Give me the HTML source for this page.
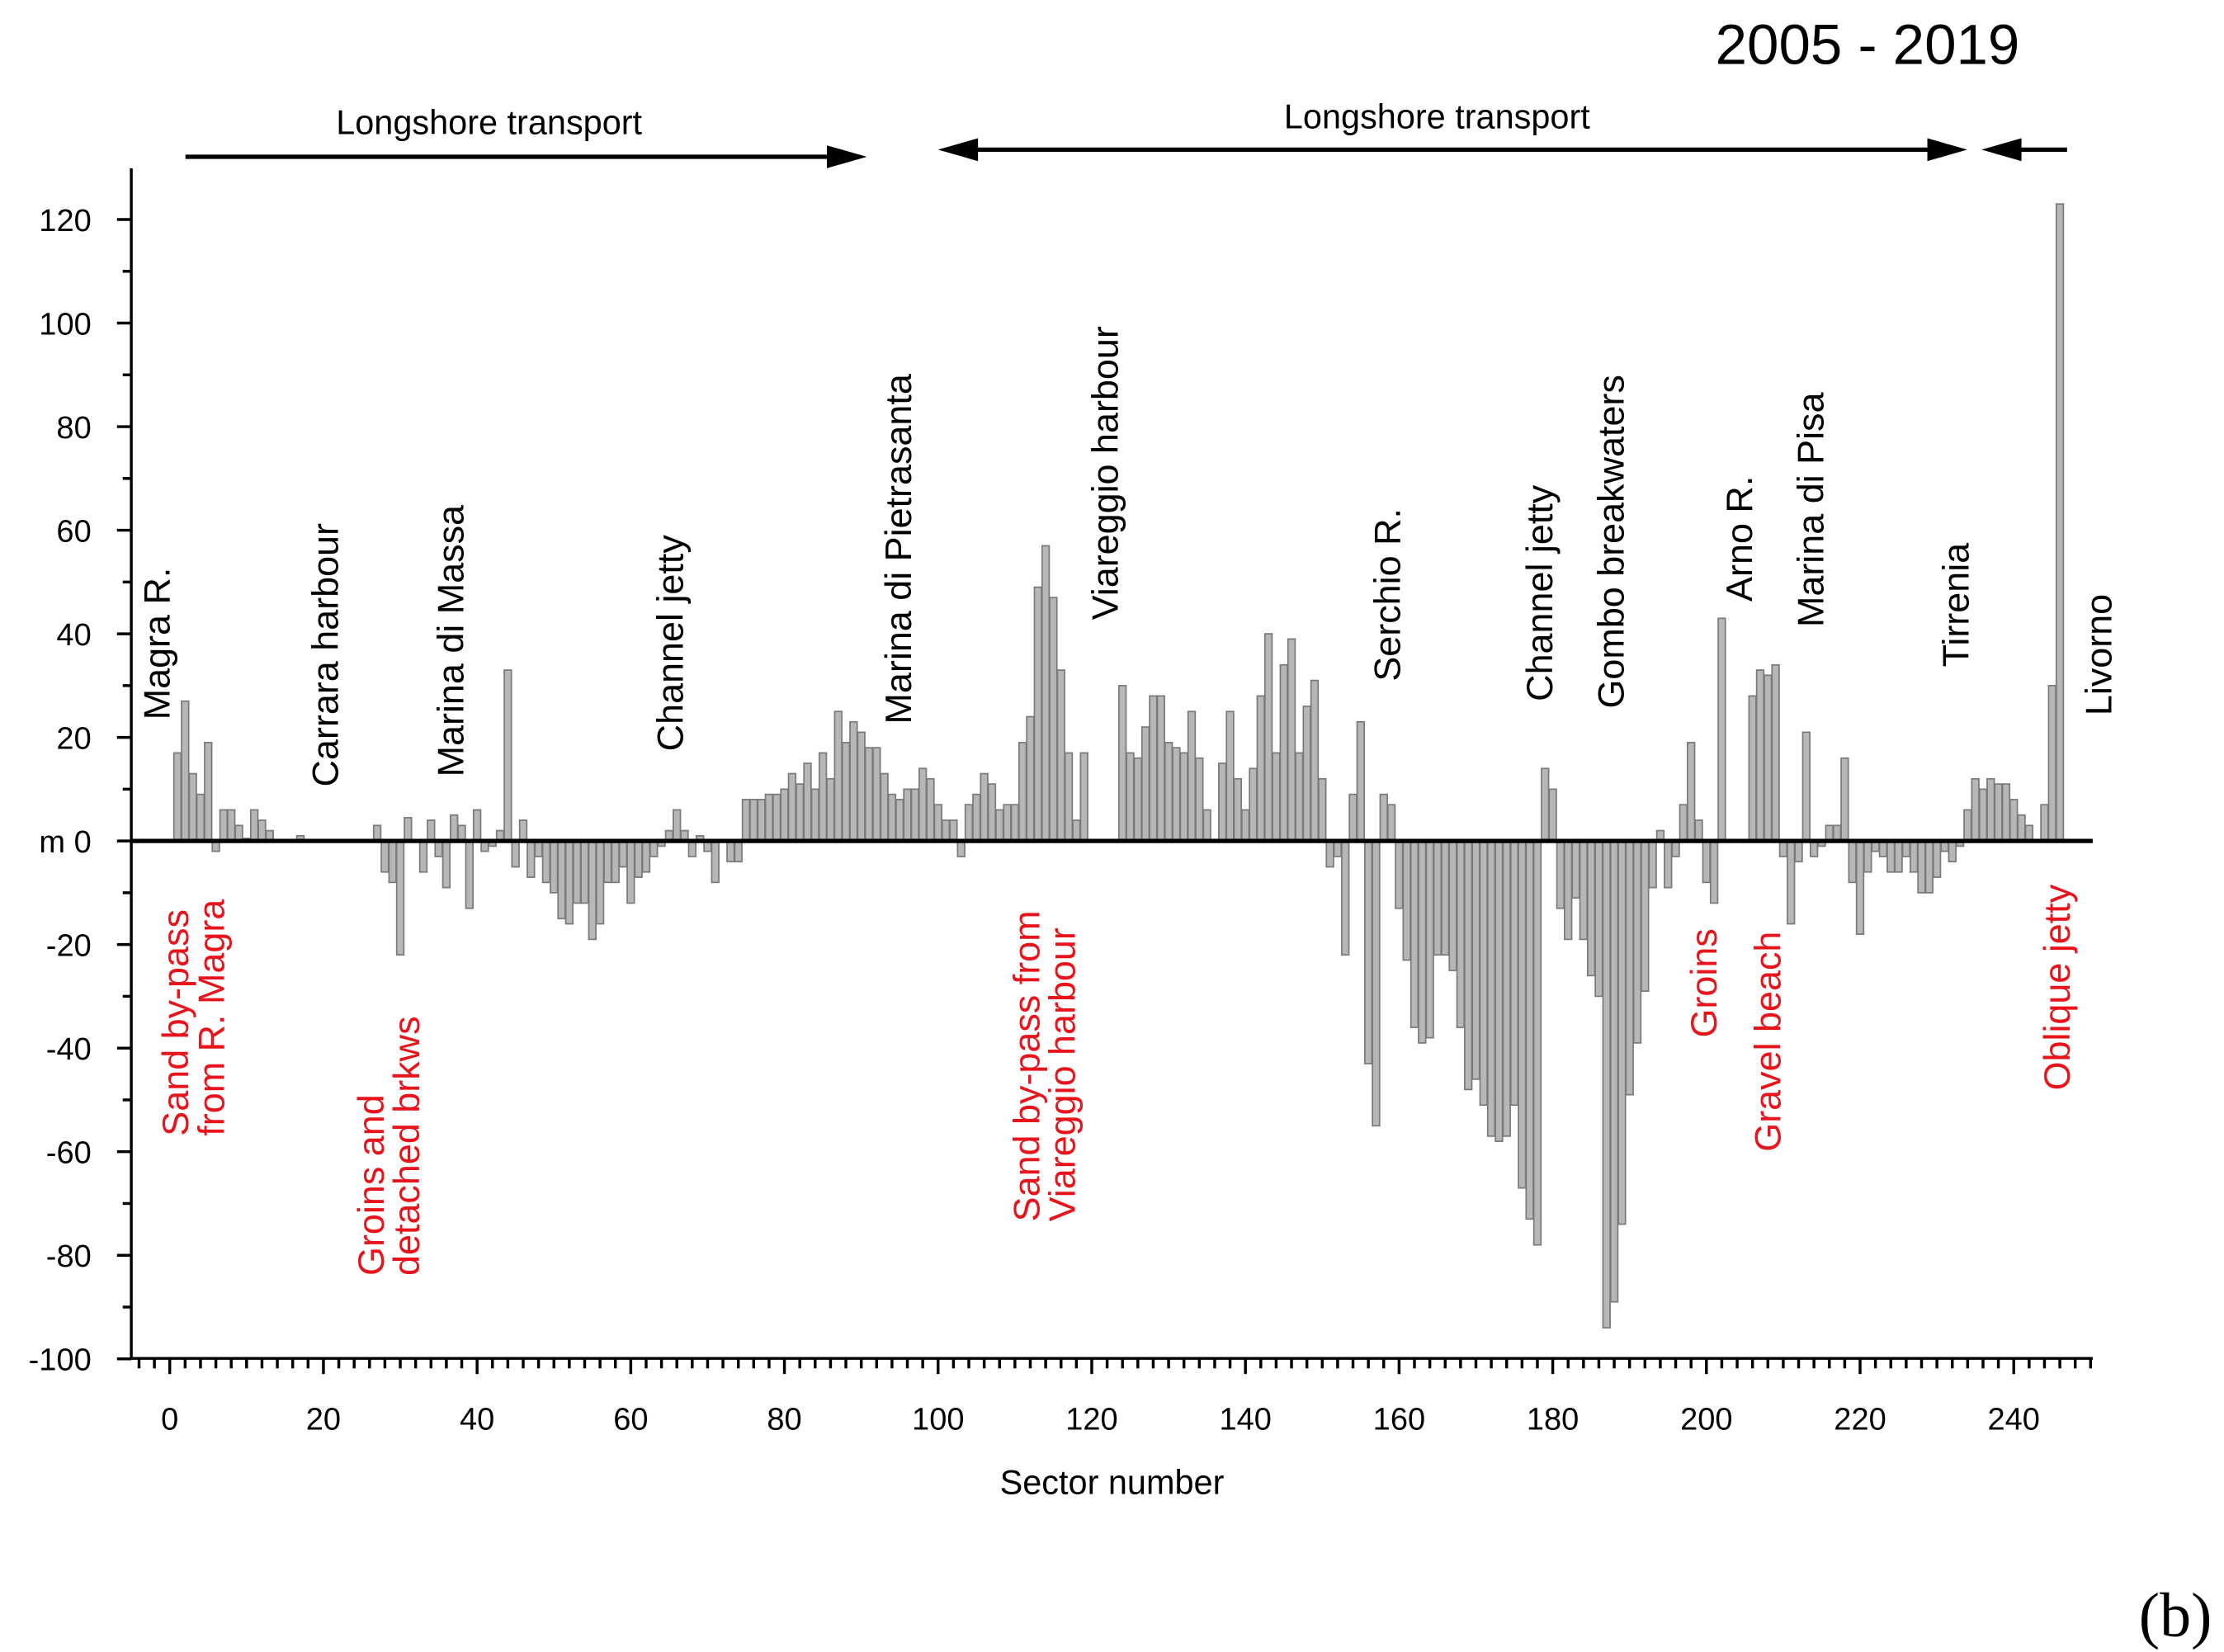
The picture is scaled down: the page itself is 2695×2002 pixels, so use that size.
<!DOCTYPE html>
<html><head><meta charset="utf-8"><style>
html,body{margin:0;padding:0;background:#fff}
svg{display:block;font-family:"Liberation Sans",Arial,sans-serif}
</style></head><body>
<svg id="chart" width="2695" height="2002" viewBox="0 0 1560 1159" xmlns="http://www.w3.org/2000/svg">
<rect width="1560" height="1159" fill="#fff"/>
<g id="bars"></g>
<g id="axes"></g>
<g id="labels"></g>
</svg>
<script>
const values = [0,17,27,13,9,19,-2,6,6,3,0.5,6,4,2,0,0,0,1,0,0,
0,0,0,0,0,0,0,3,-6,-8,-22,4.5,0,-6,4,-3,-9,5,3,-13,
6,-2,-1,2,33,-5,4,-7,-3,-8,-10,-15,-16,-12,-12,-19,-16,-8,-8,-5,
-12,-7,-6,-3,-1,2,6,2,-3,1,-2,-8,0,-4,-4,8,8,8,9,9,
10,13,11,15,10,17,12,25,19,23,21,18,18,13,9,8,10,10,14,12,
7,4,4,-3,7,9,13,11,6,7,7,19,24,49,57,47,33,17,4,17,
0,0,0,0,30,17,16,22,28,28,19,18,17,25,16,6,0,15,25,12,
6,14,28,40,17,34,39,17,26,31,12,-5,-3,-22,9,23,-43,-55,9,7,
-13,-23,-36,-39,-38,-22,-22,-25,-36,-48,-46,-51,-57,-58,-57,-51,-67,-73,-78,14,
10,-13,-19,-11,-19,-26,-30,-94,-89,-74,-49,-39,-29,-9,2,-9,-3,7,19,4,
-8,-12,43,0,0,0,28,33,32,34,-3,-16,-4,21,-3,-1,3,3,16,-8,
-18,-6,-2,-3,-6,-6,-3,-6,-10,-10,-7,-2,-4,-1,6,12,10,12,11,11,
8,5,3,0,7,30,123];
const yTicks = [-100,-80,-60,-40,-20,0,20,40,60,80,100,120];
const yTickLabels = ["-100","-80","-60","-40","-20","m 0","20","40","60","80","100","120"];
const xTicks = [0,20,40,60,80,100,120,140,160,180,200,220,240];

const NS="http://www.w3.org/2000/svg";
const X0=119, XS=5.39, Y0=590, YS=436/120;
const xs=s=>X0+XS*s, ys=v=>Y0-YS*v;
function mk(tag,attrs,parent,text){const e=document.createElementNS(NS,tag);for(const k in attrs)e.setAttribute(k,attrs[k]);if(text!==undefined)e.textContent=text;parent.appendChild(e);return e;}
const gb=document.getElementById('bars'), ga=document.getElementById('axes'), gl=document.getElementById('labels');

values.forEach((v,i)=>{
  if(v===0)return;
  const y=Math.min(ys(v),Y0), h=Math.abs(ys(v)-Y0);
  const r=mk('rect',{x:xs(i)-2.5,y:y,width:5,height:h,fill:'#b7b7b7',stroke:'#7a7a7a','stroke-width':1},gb);
  
  
});

// axes lines
let l=mk('line',{x1:92,y1:118,x2:92,y2:953,stroke:'#000','stroke-width':2},ga);


l=mk('line',{x1:92,y1:953,x2:1468,y2:953,stroke:'#000','stroke-width':2},ga);


l=mk('line',{x1:92,y1:Y0,x2:1468,y2:Y0,stroke:'#000','stroke-width':3},ga);


// y ticks
for(let v=-100;v<=120;v+=10){
  const major=v%20===0;
  mk('line',{x1:92-(major?10:6),y1:ys(v),x2:92,y2:ys(v),stroke:'#000','stroke-width':2},ga);
}
yTicks.forEach((v,i)=>{
  const t=mk('text',{x:64,y:ys(v)+8,'text-anchor':'end','font-size':22},ga,yTickLabels[i]);
  
  
});
// x ticks
for(let s=-4;s<=250;s+=2){
  const major=s%20===0;
  if(xs(s)<92||xs(s)>1468)continue;
  mk('line',{x1:xs(s),y1:953,x2:xs(s),y2:953+(major?11:7),stroke:'#000','stroke-width':2},ga);
}
xTicks.forEach(s=>{
  const t=mk('text',{x:xs(s),y:1003,'text-anchor':'middle','font-size':22},ga,String(s));
  
  
});
</script>
<script>
(function(){
const NS="http://www.w3.org/2000/svg";
const gl=document.getElementById('labels');
function mk(tag,attrs,parent,text){const e=document.createElementNS(NS,tag);for(const k in attrs)e.setAttribute(k,attrs[k]);if(text!==undefined)e.textContent=text;parent.appendChild(e);return e;}
let t=mk('text',{x:780,y:1048,'text-anchor':'middle','font-size':24},gl,'Sector number');


t=mk('text',{x:1310,y:45,'text-anchor':'middle','font-size':40},gl,'2005 - 2019');


t=mk('text',{x:1526,y:1148,'text-anchor':'middle','font-size':44,'font-family':'Liberation Serif, serif'},gl,'(b)');


t=mk('text',{x:343,y:94,'text-anchor':'middle','font-size':24},gl,'Longshore transport');


t=mk('text',{x:1008,y:90,'text-anchor':'middle','font-size':24},gl,'Longshore transport');


// arrows
let a=mk('g',{},gl);


mk('line',{x1:130,y1:110,x2:590,y2:110,stroke:'#000','stroke-width':3},a);
mk('polygon',{points:'608,110 580,102 580,118',fill:'#000'},a);
mk('line',{x1:676,y1:105,x2:1362,y2:105,stroke:'#000','stroke-width':3},a);
mk('polygon',{points:'658,105 686,97 686,113',fill:'#000'},a);
mk('polygon',{points:'1380,105 1352,97 1352,113',fill:'#000'},a);
mk('line',{x1:1408,y1:105,x2:1450,y2:105,stroke:'#000','stroke-width':3},a);
mk('polygon',{points:'1390,105 1418,97 1418,113',fill:'#000'},a);
const black=[['Magra R.',110,505],['Carrara harbour',228,552],['Marina di Massa',316,545],['Channel jetty',470,527],['Marina di Pietrasanta',630,508],['Viareggio harbour',775,435],['Serchio R.',973,478],['Channel jetty',1080,492],['Gombo breakwaters',1130,497],['Arno R.',1220,422],['Marina di Pisa',1270,440],['Tirrenia',1372,468],['Livorno',1472,502]];
black.forEach(b=>{
  const e=mk('text',{x:0,y:0,'font-size':26,'dominant-baseline':'central',transform:`translate(${b[1]},${b[2]}) rotate(-90)`},gl,b[0]);
  
  
});
const red=[['Sand by-pass',123,797],['from R. Magra',148,797],['Groins and',260,895],['detached brkws',285,895],['Sand by-pass from',720,857],['Viareggio harbour',745,857],['Groins',1195,728],['Gravel beach',1240,808],['Oblique jetty',1443,765]];
red.forEach(b=>{
  const e=mk('text',{x:0,y:0,'font-size':26,fill:'#e8141c','dominant-baseline':'central',transform:`translate(${b[1]},${b[2]}) rotate(-90)`},gl,b[0]);
  
  
});
})();
</script>
</body></html>
